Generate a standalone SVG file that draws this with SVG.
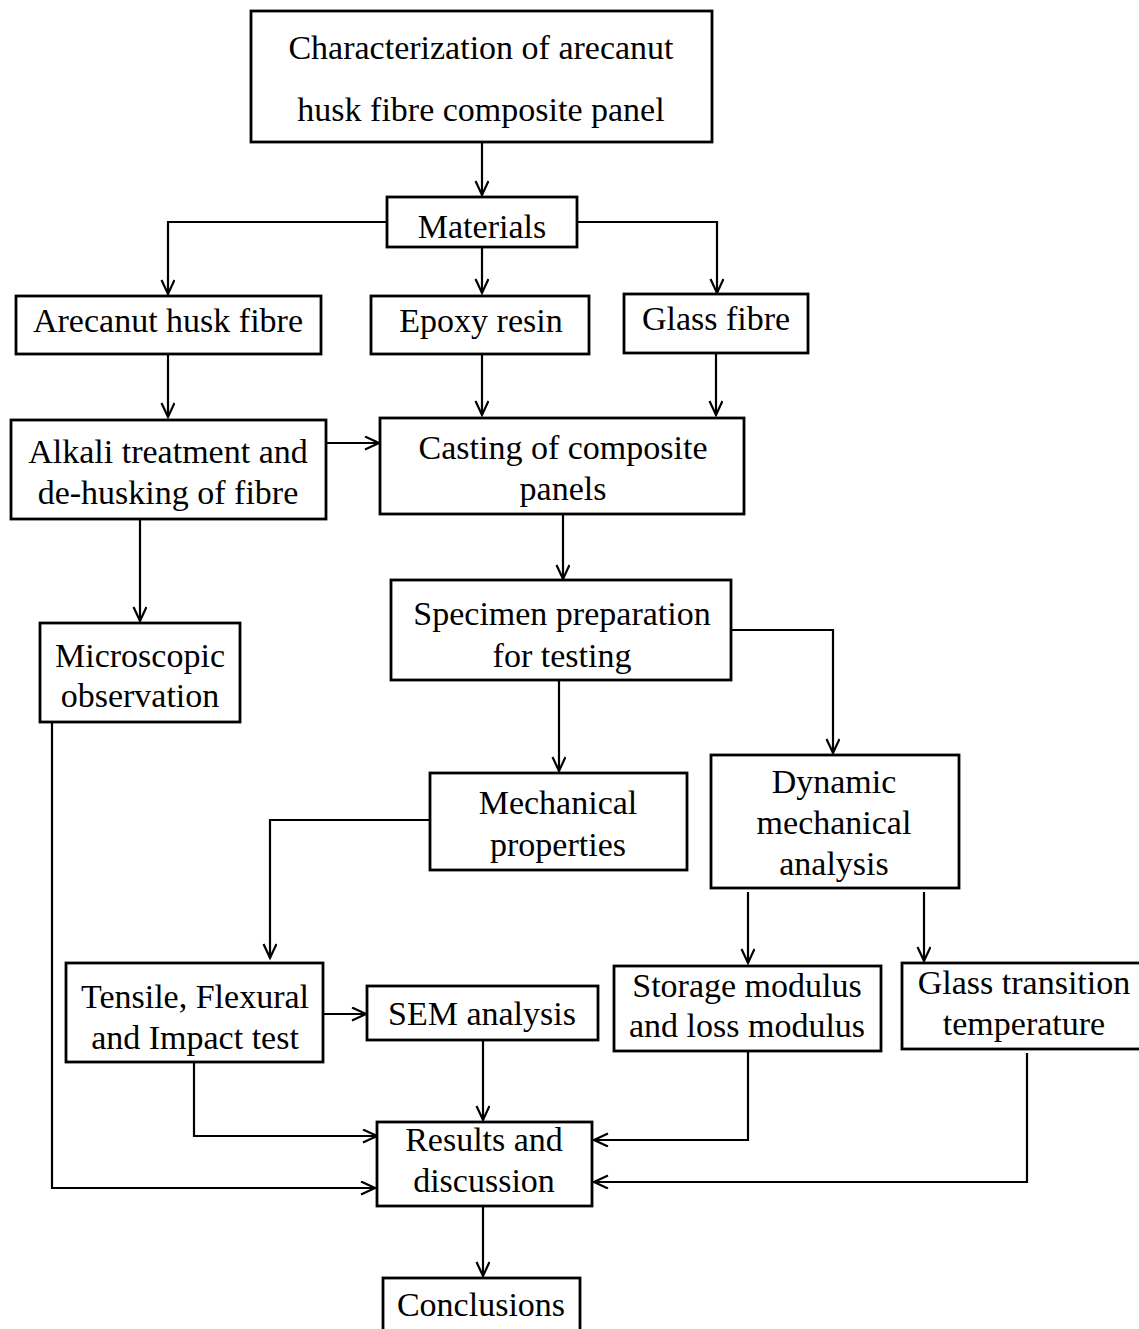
<svg xmlns="http://www.w3.org/2000/svg" width="1139" height="1329" viewBox="0 0 1139 1329">
<defs>
<marker id="ah" markerUnits="userSpaceOnUse" markerWidth="20" markerHeight="20" refX="15" refY="7" orient="auto" viewBox="0 0 20 20">
<path d="M1,0.5 L15,7 L1,13.5" fill="none" stroke="#000" stroke-width="2.2"/>
</marker>
<style>
.box{fill:#fff;stroke:#000;stroke-width:2.8}
.t{font-size:34px;fill:#000;text-anchor:middle}
.a{fill:none;stroke:#000;stroke-width:2.2;marker-end:url(#ah)}
</style>
</defs>
<rect width="1139" height="1329" fill="#fff"/>
<g id="connectors">
<path class="a" d="M482,142 V195"/>
<path class="a" d="M387,222 H168 V294"/>
<path class="a" d="M577,222 H717 V293"/>
<path class="a" d="M482,247 V293"/>
<path class="a" d="M168,354 V417"/>
<path class="a" d="M482,354 V415"/>
<path class="a" d="M716,353 V415"/>
<path class="a" d="M326,443 H379"/>
<path class="a" d="M140,519 V621"/>
<path class="a" d="M563,514 V579"/>
<path class="a" d="M731,630 H833 V753"/>
<path class="a" d="M559,680 V771"/>
<path class="a" d="M430,820 H270 V958"/>
<path class="a" d="M748,892 V963"/>
<path class="a" d="M924,892 V961"/>
<path class="a" d="M323,1014 H366"/>
<path class="a" d="M483,1040 V1120"/>
<path class="a" d="M194,1062 V1136 H377"/>
<path class="a" d="M748,1051 V1140 H594"/>
<path class="a" d="M1027,1053 V1182 H594"/>
<path class="a" d="M52,722 V1188 H375"/>
<path class="a" d="M483,1206 V1276"/>
</g>
<g id="nodes" font-family="Liberation Serif, Times New Roman, serif">
<g id="n-char"><rect class="box" x="251" y="11" width="461" height="131"/>
<text class="t" x="481" y="59">Characterization of arecanut</text>
<text class="t" x="481" y="121">husk fibre composite panel</text></g>
<g id="n-materials"><rect class="box" x="387" y="197" width="190" height="50"/>
<text class="t" x="482" y="238">Materials</text></g>
<g id="n-arecanut"><rect class="box" x="16" y="296" width="305" height="58"/>
<text class="t" x="168" y="332">Arecanut husk fibre</text></g>
<g id="n-epoxy"><rect class="box" x="371" y="296" width="218" height="58"/>
<text class="t" x="481" y="332">Epoxy resin</text></g>
<g id="n-glass"><rect class="box" x="624" y="294" width="184" height="59"/>
<text class="t" x="716" y="330">Glass fibre</text></g>
<g id="n-alkali"><rect class="box" x="11" y="420" width="315" height="99"/>
<text class="t" x="168" y="463">Alkali treatment and</text>
<text class="t" x="168" y="504">de-husking of fibre</text></g>
<g id="n-casting"><rect class="box" x="380" y="418" width="364" height="96"/>
<text class="t" x="563" y="459">Casting of composite</text>
<text class="t" x="563" y="500">panels</text></g>
<g id="n-micro"><rect class="box" x="40" y="623" width="200" height="99"/>
<text class="t" x="140" y="667">Microscopic</text>
<text class="t" x="140" y="707">observation</text></g>
<g id="n-specimen"><rect class="box" x="391" y="580" width="340" height="100"/>
<text class="t" x="562" y="625">Specimen preparation</text>
<text class="t" x="562" y="667">for testing</text></g>
<g id="n-mech"><rect class="box" x="430" y="773" width="257" height="97"/>
<text class="t" x="558" y="814">Mechanical</text>
<text class="t" x="558" y="856">properties</text></g>
<g id="n-dma"><rect class="box" x="711" y="755" width="248" height="133"/>
<text class="t" x="834" y="793">Dynamic</text>
<text class="t" x="834" y="834">mechanical</text>
<text class="t" x="834" y="875">analysis</text></g>
<g id="n-tensile"><rect class="box" x="66" y="963" width="257" height="99"/>
<text class="t" x="195" y="1008">Tensile, Flexural</text>
<text class="t" x="195" y="1049">and Impact test</text></g>
<g id="n-sem"><rect class="box" x="367" y="986" width="231" height="54"/>
<text class="t" x="482" y="1025">SEM analysis</text></g>
<g id="n-storage"><rect class="box" x="614" y="966" width="267" height="85"/>
<text class="t" x="747" y="997">Storage modulus</text>
<text class="t" x="747" y="1037">and loss modulus</text></g>
<g id="n-gtt"><rect class="box" x="902" y="963" width="240" height="86"/>
<text class="t" x="1024" y="994">Glass transition</text>
<text class="t" x="1024" y="1035">temperature</text></g>
<g id="n-results"><rect class="box" x="377" y="1122" width="215" height="84"/>
<text class="t" x="484" y="1151">Results and</text>
<text class="t" x="484" y="1192">discussion</text></g>
<g id="n-concl"><rect class="box" x="383" y="1278" width="197" height="55"/>
<text class="t" x="481" y="1316">Conclusions</text></g>
</g>
</svg>
